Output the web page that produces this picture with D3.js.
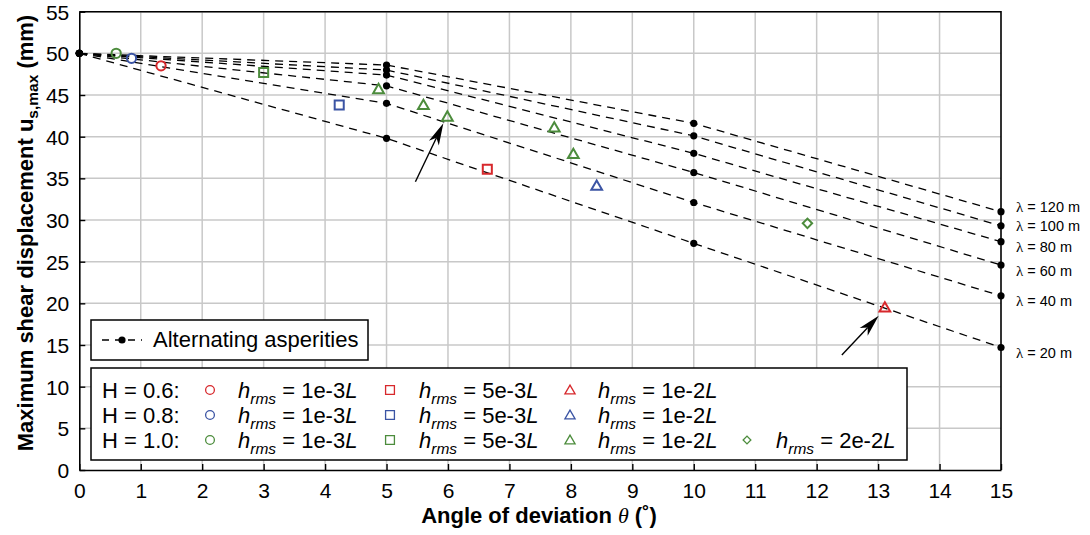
<!DOCTYPE html>
<html><head><meta charset="utf-8">
<script src="https://cdn.jsdelivr.net/npm/d3@7"></script>
<style>
body{margin:0;background:#fff;}
svg{display:block;font-family:"Liberation Sans",Arial,sans-serif;}
</style></head>
<body><svg id="c" width="1090" height="535"></svg>
<script>
// ---- data ----
const thetaNodes = [0, 5, 10, 15];
const lambdas = [20, 40, 60, 80, 100, 120];
const uLambda20  = [50, 39.8, 27.2, 14.7];
const uLambda40  = [50, 44.0, 32.1, 20.9];
const uLambda60  = [50, 46.1, 35.7, 24.6];
const uLambda80  = [50, 47.4, 38.0, 27.4];
const uLambda100 = [50, 48.0, 40.1, 29.3];
const uLambda120 = [50, 48.6, 41.6, 31.0];
const lambdaSeries = [uLambda20, uLambda40, uLambda60, uLambda80, uLambda100, uLambda120];

// markers: [theta, u]
const H06_h1e3 = [[1.33, 48.5]];
const H06_h5e3 = [[6.64, 36.1]];
const H06_h1e2 = [[13.11, 19.4]];
const H08_h1e3 = [[0.85, 49.4]];
const H08_h5e3 = [[4.23, 43.8]];
const H08_h1e2 = [[8.42, 34.0]];
const H10_h1e3 = [[0.60, 50.0]];
const H10_h5e3 = [[3.00, 47.7]];
const H10_h1e2 = [[4.87, 45.6], [5.60, 43.7], [5.99, 42.3], [7.73, 41.0], [8.04, 37.8]];
const H10_h2e2 = [[11.85, 29.6]];

const hLabels = ["H = 0.6:", "H = 0.8:", "H = 1.0:"];
const hrmsLabels = ["1e-3", "5e-3", "1e-2", "2e-2"];
const xTicks = d3.range(0, 16, 1);
const yTicks = d3.range(0, 56, 5);
// arrows: [fromTheta, fromU, toTheta, toU]
const arrows = [[5.47, 34.6, 5.925, 41.6], [12.41, 13.8, 13.01, 18.5]];

// ---- styles ----
const colors = ["#d7282c", "#3b54a4", "#4c8c3c"];
const symbolTypes = [d3.symbolCircle, d3.symbolSquare, d3.symbolTriangle, d3.symbolSquare];
const symbolRot = [0, 0, 0, 45];

const svg = d3.select("#c");
const x = d3.scaleLinear().domain([0, 15]).range([79.3, 1001]);
const y = d3.scaleLinear().domain([0, 55]).range([470, 11.7]);

// grid
svg.append("g").selectAll("line").data(xTicks.slice(1, -1)).join("line")
  .attr("x1", d => x(d)).attr("x2", d => x(d)).attr("y1", y(0)).attr("y2", y(55))
  .attr("stroke", "#c8c8c8").attr("stroke-width", 1.5);
svg.append("g").selectAll("line").data(yTicks.slice(1)).join("line")
  .attr("x1", x(0)).attr("x2", x(15)).attr("y1", d => y(d)).attr("y2", d => y(d))
  .attr("stroke", "#c8c8c8").attr("stroke-width", 1.5);

// frame top/right
svg.append("path").attr("d", `M${x(0)},${y(55)}H${x(15)}V${y(0)}`)
  .attr("fill", "none").attr("stroke", "#000").attr("stroke-width", 1.6);

// axes
const xAxis = d3.axisBottom(x).tickValues(xTicks).tickSizeInner(-6).tickSizeOuter(0).tickPadding(13).tickFormat(d3.format("d"));
const gx = svg.append("g").attr("transform", `translate(0,${y(0)})`).call(xAxis);
const yAxis = d3.axisLeft(y).tickValues(yTicks).tickSizeInner(-6).tickSizeOuter(0).tickPadding(10).tickFormat(d3.format("d"));
const gy = svg.append("g").attr("transform", `translate(${x(0)},0)`).call(yAxis);
[gx, gy].forEach(g => {
  g.select(".domain").attr("stroke", "#000").attr("stroke-width", 1.6);
  g.selectAll(".tick line").attr("stroke", "#000").attr("stroke-width", 1.4);
  g.selectAll(".tick text").attr("font-size", 21).attr("fill", "#000")
    .attr("font-family", "Liberation Sans, Arial, sans-serif");
});
gx.selectAll(".tick text").attr("dy", "0.71em");
gy.selectAll(".tick text").attr("dy", "0.36em");

// dashed lines
const line = d3.line().x((d, i) => x(thetaNodes[i])).y(d => y(d));
svg.append("g").selectAll("path").data(lambdaSeries).join("path")
  .attr("d", d => line(d)).attr("fill", "none").attr("stroke", "#000")
  .attr("stroke-width", 1.3).attr("stroke-dasharray", "8,6");
svg.append("g").selectAll("circle")
  .data(lambdaSeries.flatMap(s => s.map((v, i) => [thetaNodes[i], v])))
  .join("circle").attr("cx", d => x(d[0])).attr("cy", d => y(d[1])).attr("r", 3.6).attr("fill", "#000");

// lambda labels
const labelY = {20: 353, 40: 301, 60: 271, 80: 247, 100: 226, 120: 207};
svg.append("g").selectAll("text").data(lambdas).join("text")
  .attr("x", x(15) + 15).attr("y", d => labelY[d]).attr("dy", "0.36em")
  .attr("font-size", 14.5)
  .each(function(d) {
    const t = d3.select(this);
    t.append("tspan").attr("font-family", "Liberation Serif, serif").attr("font-size", 15).text("λ");
    t.append("tspan").text(` = ${d} m`);
  });

// markers
const markerSets = [
  [H06_h1e3, 0, 0], [H06_h5e3, 0, 1], [H06_h1e2, 0, 2],
  [H08_h1e3, 1, 0], [H08_h5e3, 1, 1], [H08_h1e2, 1, 2],
  [H10_h1e3, 2, 0], [H10_h5e3, 2, 1], [H10_h1e2, 2, 2], [H10_h2e2, 2, 3]
];
const plotSizes = [68, 82, 50, 44];
markerSets.forEach(([pts, ci, si]) => {
  svg.append("g").selectAll("path").data(pts).join("path")
    .attr("d", d3.symbol().type(symbolTypes[si]).size(plotSizes[si]))
    .attr("transform", d => `translate(${x(d[0])},${y(d[1])}) rotate(${symbolRot[si]})`)
    .attr("fill", "none").attr("stroke", colors[ci]).attr("stroke-width", 2);
});

// arrows
arrows.forEach(([a, b, c, d]) => {
  const x1 = x(a), y1 = y(b), x2 = x(c), y2 = y(d);
  const ang = Math.atan2(y2 - y1, x2 - x1);
  const L = 22, W = 5.5, back = 16;
  const bx = x2 - L * Math.cos(ang), by = y2 - L * Math.sin(ang);
  const nx = -Math.sin(ang), ny = Math.cos(ang);
  const ix = x2 - back * Math.cos(ang), iy = y2 - back * Math.sin(ang);
  svg.append("line").attr("x1", x1).attr("y1", y1).attr("x2", ix).attr("y2", iy)
    .attr("stroke", "#000").attr("stroke-width", 1.4);
  svg.append("path")
    .attr("d", `M${x2},${y2}L${bx + W * nx},${by + W * ny}L${ix},${iy}L${bx - W * nx},${by - W * ny}Z`)
    .attr("fill", "#000");
});

// legend 1
const lg1 = svg.append("g");
lg1.append("rect").attr("x", 91).attr("y", 320).attr("width", 277).attr("height", 40)
  .attr("fill", "#fff").attr("stroke", "#000").attr("stroke-width", 1.5);
lg1.append("line").attr("x1", 102).attr("x2", 142).attr("y1", 340).attr("y2", 340)
  .attr("stroke", "#000").attr("stroke-width", 1.3).attr("stroke-dasharray", "7,6");
lg1.append("circle").attr("cx", 122).attr("cy", 340).attr("r", 3.6).attr("fill", "#000");
lg1.append("text").attr("x", 153).attr("y", 347).attr("font-size", 22).text("Alternating asperities");

// legend 2
const lg2 = svg.append("g");
lg2.append("rect").attr("x", 91).attr("y", 368).attr("width", 816).attr("height", 92)
  .attr("fill", "#fff").attr("stroke", "#000").attr("stroke-width", 1.5);
const rowY = [390, 415, 440];
const colMarkX = [210, 390, 570, 747];
const colTextX = [238, 419, 598, 776];
const legendSizes = [60, 78, 45, 30];
const legendRows = [[0, 1, 2], [0, 1, 2], [0, 1, 2, 3]];
hLabels.forEach((lab, r) => {
  lg2.append("text").attr("x", 102).attr("y", rowY[r]).attr("dy", "0.35em").attr("font-size", 22).text(lab);
  legendRows[r].forEach(c => {
    lg2.append("path").attr("d", d3.symbol().type(symbolTypes[c]).size(legendSizes[c]))
      .attr("transform", `translate(${colMarkX[c]},${rowY[r] + (c === 2 ? 1 : 0)}) rotate(${symbolRot[c]})`)
      .attr("fill", "none").attr("stroke", colors[r]).attr("stroke-width", 1.3);
    const t = lg2.append("text").attr("x", colTextX[c]).attr("y", rowY[r]).attr("dy", "0.35em").attr("font-size", 22);
    t.append("tspan").attr("font-style", "italic").text("h");
    t.append("tspan").attr("font-style", "italic").attr("font-size", 15.5).attr("dy", 6).text("rms");
    t.append("tspan").attr("dy", -6).text(` = ${hrmsLabels[c]}`);
    t.append("tspan").attr("font-style", "italic").text("L");
  });
});

// axis titles
const xt = svg.append("text").attr("x", 539).attr("y", 523).attr("text-anchor", "middle")
  .attr("font-size", 22).attr("font-weight", "bold");
xt.append("tspan").text("Angle of deviation ");
xt.append("tspan").attr("font-family", "Liberation Serif, serif").attr("font-style", "italic").attr("font-weight", "normal").text("θ");
xt.append("tspan").text(" (˚)");

const yt = svg.append("text").attr("transform", "translate(33,233) rotate(-90)").attr("text-anchor", "middle")
  .attr("font-size", 22).attr("font-weight", "bold");
yt.append("tspan").text("Maximum shear displacement u");
yt.append("tspan").attr("font-size", 15.5).attr("dy", 5).text("s,max");
yt.append("tspan").attr("dy", -5).text(" (mm)");
</script>
</body></html>
